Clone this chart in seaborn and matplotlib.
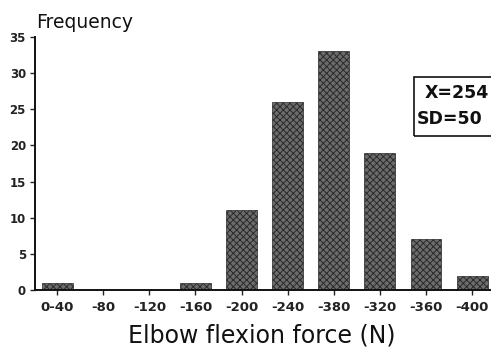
import matplotlib
matplotlib.use("Agg")
import matplotlib.pyplot as plt
import seaborn as sns
import pandas as pd

categories = ["0-40", "-80", "-120", "-160", "-200", "-240", "-380", "-320", "-360", "-400"]
frequency = [1, 0, 0, 1, 11, 26, 33, 19, 7, 2]
y_ticks = [0, 5, 10, 15, 20, 25, 30, 35]

sns.set_theme(style="white")
plt.rcParams['font.family'] = ['DejaVu Sans']
plt.rcParams['hatch.color'] = '#262626'
plt.rcParams['hatch.linewidth'] = 0.7

df = pd.DataFrame({"force": categories, "freq": frequency})

fig = plt.figure(figsize=(4.91, 3.48), dpi=100)
ax = fig.add_axes([35/491, 1-290/348, 1-35/491, (290-37)/348])

sns.barplot(data=df, x="force", y="freq", order=categories, width=0.67,
            color="#6c6c6c", saturation=1, ax=ax, edgecolor="#2a2a2a", linewidth=0.5)
for p in ax.patches:
    p.set_hatch("xxxxx")

ax.set_xlim(-0.48, 9.41)
ax.set_ylim(0, 35)
ax.set_yticks(y_ticks)
ax.set_yticklabels([str(v) for v in y_ticks], fontsize=8.5, fontweight="bold", color="#222222")
ax.set_xticks(range(len(categories)))
ax.set_xticklabels(categories, fontsize=9.5, fontweight="bold", color="#222222")
ax.tick_params(axis="both", which="both", direction="out", length=3.5, width=1,
               color="#222222", left=True, bottom=True, pad=3)
ax.tick_params(axis="x", pad=4.5)

for s in ["top", "right"]:
    ax.spines[s].set_visible(False)
for s in ["left", "bottom"]:
    ax.spines[s].set_color("#111111")
    ax.spines[s].set_linewidth(1.4)

ax.set_xlabel("Elbow flexion force (N)", fontsize=17, color="#111111")
ax.xaxis.set_label_coords((262-35)/456, -(343-290)/253, transform=ax.transAxes)
ax.xaxis.label.set_va("baseline")
ax.set_ylabel("")
fig.text(36/491, 1-28/348, "Frequency", fontsize=13.5, color="#111111", ha="left", va="baseline")

# stats box (clipped at right edge as in original)
box = plt.Rectangle((414/491, 1-136/348), 100/491, 59/348, transform=fig.transFigure,
                    fill=False, edgecolor="#111111", linewidth=1.2, clip_on=False)
fig.add_artist(box)
fig.text(425/491, 1-93/348, "X=254", fontsize=12.5, fontweight="bold", color="#111111",
         ha="left", va="center")
fig.text(417/491, 1-119/348, "SD=50", fontsize=12.5, fontweight="bold", color="#111111",
         ha="left", va="center")

fig.savefig("out.png", dpi=100)
